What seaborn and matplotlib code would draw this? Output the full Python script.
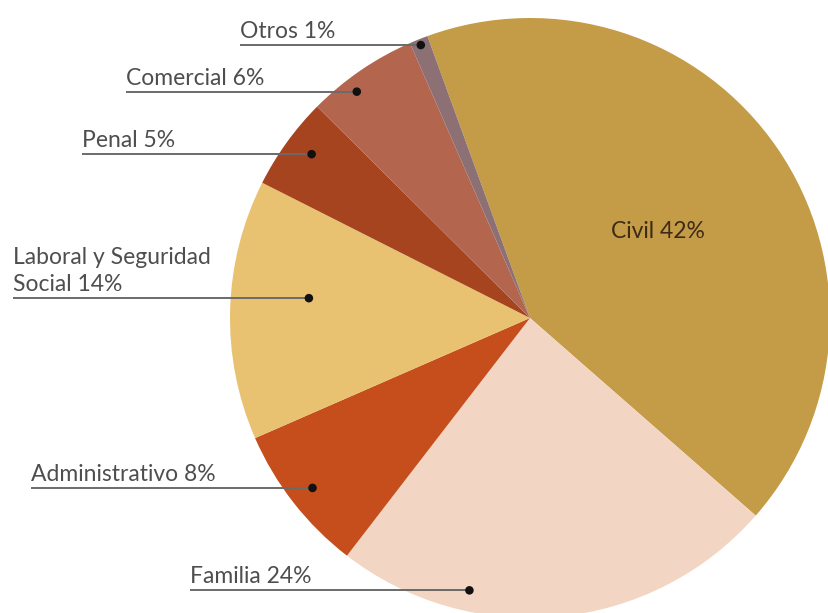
import numpy as np
import pandas as pd
import matplotlib
matplotlib.use("Agg")
import matplotlib.pyplot as plt
import seaborn as sns

# Distribution of cases by legal area (percent)
areas = ["Civil", "Familia", "Administrativo", "Laboral y Seguridad\nSocial",
         "Penal", "Comercial", "Otros"]
shares = [42, 24, 8, 14, 5, 6, 1]
colors = ["#C49B47", "#F2D6C3", "#C64D1C", "#E8C271", "#A5441E", "#B4654E", "#8C7074"]

W, H = 829, 613
sns.set_theme(style="white")
plt.rcParams["font.family"] = ["Lato", "DejaVu Sans"]

fig = plt.figure(figsize=(W / 100, H / 100), dpi=100)
ax = fig.add_axes([0, 0, 1, 1])

cx, cy, R = 530, H - 318, 300
wedges, _ = ax.pie(shares, colors=colors, startangle=110, counterclock=False,
                   center=(cx, cy), radius=R,
                   wedgeprops=dict(linewidth=0, antialiased=True))
ax.set_xlim(0, W)
ax.set_ylim(0, H)
ax.set_aspect("equal")
ax.axis("off")

# Label layout: (position along wedge sweep, radius fraction, text left x)
layout = {
    "Familia": (0.71, 0.93, 190),
    "Administrativo": (0.50, 0.92, 31),
    "Laboral y Seguridad\nSocial": (0.57, 0.74, 13),
    "Penal": (0.56, 0.91, 82),
    "Comercial": (0.36, 0.95, 126),
    "Otros": (0.50, 0.98, 240),
}

dots = []
for w, name, pct in zip(wedges, areas, shares):
    if name not in layout:
        continue
    frac, rf, tx = layout[name]
    ang = np.deg2rad(w.theta2 - frac * (w.theta2 - w.theta1))
    dx = cx + rf * R * np.cos(ang)
    dy = cy + rf * R * np.sin(ang)
    dots.append((dx, dy))
    ax.plot([tx, dx], [dy, dy], color="#6a6a6a", lw=1.4, solid_capstyle="butt", zorder=3)
    ax.text(tx, dy + 7, f"{name} {pct}%", ha="left", va="baseline",
            fontsize=16.5, color="#4e4e4e", fontweight="normal",
            linespacing=1.38, zorder=4)

dot_df = pd.DataFrame(dots, columns=["x", "y"])
sns.scatterplot(data=dot_df, x="x", y="y", ax=ax, s=38, color="#111111",
                edgecolor="none", zorder=5, legend=False)
ax.set_xlim(0, W)
ax.set_ylim(0, H)
ax.axis("off")

ax.text(658, H - 232, f"{areas[0]} {shares[0]}%", ha="center", va="center",
        fontsize=16.5, color="#3e2b16", fontweight="normal", zorder=4)

fig.savefig("out.png", dpi=100, facecolor="white")
